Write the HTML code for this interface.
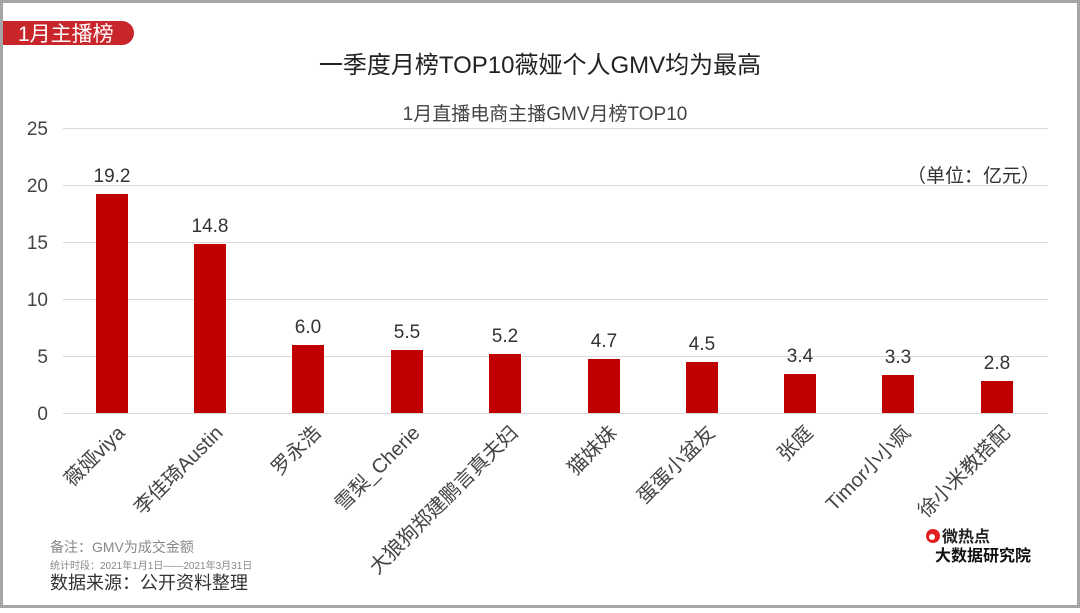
<!DOCTYPE html><html><head><meta charset="utf-8"><style>
body{margin:0;background:#fff}
</style></head><body>
<svg width="1080" height="608" xmlns="http://www.w3.org/2000/svg" style="font-family:'Liberation Sans','Noto Sans CJK SC',sans-serif">
<rect x="0" y="0" width="1080" height="608" fill="#a6a6a6"/>
<rect x="3" y="3" width="1074" height="602" fill="#fff"/>
<path d="M3 21 H122 A12 12 0 0 1 122 45 H3 Z" fill="#c8262a"/>
<text x="18" y="41" font-size="21" fill="#fff">1月主播榜</text>
<text x="540" y="73" font-size="24" fill="#222" text-anchor="middle">一季度月榜TOP10薇娅个人GMV均为最高</text>
<text x="545" y="120" font-size="19" fill="#444" text-anchor="middle">1月直播电商主播GMV月榜TOP10</text>
<text x="1040" y="182" font-size="19" fill="#333" text-anchor="end">（单位：亿元）</text>
<g stroke="#d9d9d9" stroke-width="1">
<line x1="63" x2="1048" y1="128.5" y2="128.5"/><line x1="63" x2="1048" y1="185.5" y2="185.5"/>
<line x1="63" x2="1048" y1="242.5" y2="242.5"/><line x1="63" x2="1048" y1="299.5" y2="299.5"/>
<line x1="63" x2="1048" y1="356.5" y2="356.5"/><line x1="63" x2="1048" y1="413.5" y2="413.5"/>
</g>
<g font-size="19" fill="#444" text-anchor="end">
<text x="48" y="135">25</text><text x="48" y="192">20</text><text x="48" y="249">15</text>
<text x="48" y="306">10</text><text x="48" y="363">5</text><text x="48" y="420">0</text>
</g>
<g fill="#c00000">
<rect x="96" y="194" width="32" height="219"/>
<rect x="194" y="244" width="32" height="169"/>
<rect x="292" y="345" width="32" height="68"/>
<rect x="391" y="350" width="32" height="63"/>
<rect x="489" y="354" width="32" height="59"/>
<rect x="588" y="359" width="32" height="54"/>
<rect x="686" y="362" width="32" height="51"/>
<rect x="784" y="374" width="32" height="39"/>
<rect x="882" y="375" width="32" height="38"/>
<rect x="981" y="381" width="32" height="32"/>
</g>
<g font-size="19" fill="#333" text-anchor="middle">
<text x="112" y="182">19.2</text><text x="210" y="232">14.8</text><text x="308" y="333">6.0</text>
<text x="407" y="338">5.5</text><text x="505" y="342">5.2</text><text x="604" y="347">4.7</text>
<text x="702" y="350">4.5</text><text x="800" y="362">3.4</text><text x="898" y="363">3.3</text>
<text x="997" y="369">2.8</text>
</g>
<g font-size="20" fill="#444" text-anchor="end">
<text transform="translate(126,434) rotate(-45)">薇娅viya</text>
<text transform="translate(224,434) rotate(-45)">李佳琦Austin</text>
<text transform="translate(322,434) rotate(-45)">罗永浩</text>
<text transform="translate(421,434) rotate(-45)">雪梨_Cherie</text>
<text transform="translate(519,434) rotate(-45)">大狼狗郑建鹏言真夫妇</text>
<text transform="translate(618,434) rotate(-45)">猫妹妹</text>
<text transform="translate(716,434) rotate(-45)">蛋蛋小盆友</text>
<text transform="translate(814,434) rotate(-45)">张庭</text>
<text transform="translate(912,434) rotate(-45)">Timor小小疯</text>
<text transform="translate(1011,434) rotate(-45)">徐小米教搭配</text>
</g>
<text x="50" y="552" font-size="14" fill="#888">备注：GMV为成交金额</text>
<text x="50" y="569" font-size="10" fill="#888">统计时段：2021年1月1日——2021年3月31日</text>
<text x="50" y="589" font-size="18" fill="#333">数据来源：公开资料整理</text>
<circle cx="933" cy="536" r="7" fill="#e02020"/><circle cx="932" cy="537" r="3" fill="#fff"/>
<text x="942" y="542" font-size="16" font-weight="bold" fill="#222">微热点</text>
<text x="935" y="561" font-size="16" font-weight="bold" fill="#111">大数据研究院</text>
</svg>
</body></html>
